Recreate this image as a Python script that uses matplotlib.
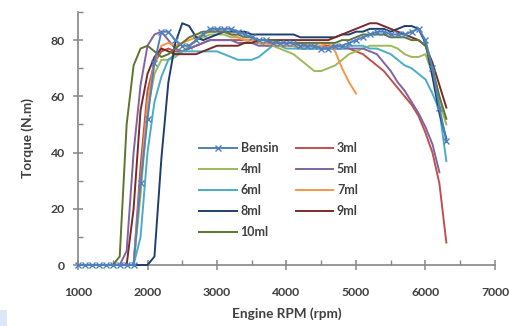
import numpy as np
import matplotlib
matplotlib.use('Agg')
import matplotlib.pyplot as plt
from matplotlib.ticker import MultipleLocator
from matplotlib.patches import Rectangle

plt.rcParams['font.family'] = ['Lato', 'DejaVu Sans']

# engine speed grid (rpm), one reading every 100 rpm
rpm = list(range(1000, 6400, 100))
nan = np.nan

bensin = [0] * 9 + [29, 52, 72, 83, 83, 80, 78, 78, 80, 82,
                    84, 84, 84, 84, 83, 82, 81, 80, 80, 79,
                    79, 79, 79, 78, 78, 78, 77, 77, 78, 78,
                    79, 80, 81, 82, 83, 83, 82, 82, 82, 83,
                    84, 80, 70, 56, 44]
ml3 = [0] * 9 + [35, 62, 72, 76, 77, 76, 76, 77, 78, 79,
                 80, 80, 80, 80, 80, 80, 80, 79, 79, 79,
                 79, 79, 79, 79, 78, 78, 78, 78, 78, 78,
                 77, 76, 75, 73, 71, 69, 66, 63, 60, 57,
                 53, 47, 40, 29, 8]
ml4 = [0] * 9 + [25, 55, 68, 73, 73, 74, 76, 78, 80, 81,
                 82, 82, 82, 81, 81, 80, 79, 79, 78, 78,
                 77, 76, 75, 73, 71, 69, 69, 70, 71, 73,
                 75, 76, 77, 78, 78, 78, 78, 77, 75, 74,
                 74, 75, 68, 58, 50]
ml5 = [0] * 7 + [5, 40, 64, 78, 82, 83, 80, 77, 76, 77,
                 78, 79, 80, 80, 80, 80, 79, 79, 79, 78,
                 78, 78, 78, 78, 78, 77, 77, 77, 77, 77,
                 77, 77, 77, 77, 77, 76, 75, 72, 69, 65,
                 62, 58, 54, 49, 43, 33, nan]
ml6 = [0] * 9 + [10, 40, 58, 67, 73, 75, 76, 76, 76, 76,
                 76, 76, 75, 74, 73, 73, 73, 74, 76, 78,
                 78, 77, 77, 77, 77, 77, 77, 77, 77, 77,
                 78, 78, 78, 77, 77, 76, 75, 73, 71, 70,
                 68, 66, 61, 55, 37]
ml7 = [0] * 9 + [30, 58, 72, 78, 79, 78, 79, 80, 81, 82,
                 83, 84, 83, 82, 81, 80, 80, 79, 79, 78,
                 78, 78, 78, 78, 78, 78, 78, 79, 76, 70,
                 65, 61] + [nan] * 13
ml8 = [0] * 11 + [3, 38, 65, 79, 86, 85, 81, 80, 81, 82,
                  83, 83, 83, 83, 82, 82, 82, 82, 82, 82,
                  82, 81, 81, 81, 81, 81, 81, 82, 82, 83,
                  83, 84, 84, 84, 83, 84, 85, 85, 84, 79,
                  67, 54, 45]
ml9 = [0] * 8 + [20, 55, 68, 74, 77, 76, 75, 75, 75, 75,
                 76, 77, 78, 78, 78, 78, 79, 79, 80, 80,
                 80, 80, 80, 80, 80, 80, 80, 80, 80, 81,
                 82, 83, 84, 85, 86, 86, 85, 84, 83, 82,
                 81, 80, 78, 72, 64, 56]
ml10 = [0] * 6 + [3, 50, 71, 77, 78, 76, 74, 75, 77, 79,
                  81, 82, 83, 83, 83, 83, 82, 82, 81, 81,
                  80, 80, 80, 79, 79, 79, 79, 79, 79, 79,
                  79, 79, 80, 80, 81, 82, 82, 82, 82, 81,
                  81, 81, 80, 80, 78, 70, 60, 52]

labels = ['Bensin', '3ml', '4ml', '5ml', '6ml', '7ml', '8ml', '9ml', '10ml']
series = [bensin, ml3, ml4, ml5, ml6, ml7, ml8, ml9, ml10]
colors = ['#4F81BD', '#C0504D', '#9BBB59', '#8064A2', '#4BACC6',
          '#F79646', '#1F3F6E', '#772C2A', '#5F7530']

fig = plt.figure(figsize=(5.1, 3.26), dpi=100)
ax = fig.add_axes([78 / 510, 61 / 326, 417 / 510, 253 / 326])

handles = {}
order_z = [1, 2, 3, 4, 5, 6, 7, 8, 0]
for i in order_z:
    kw = dict(marker='x', markersize=5, markeredgewidth=1.0) if i == 0 else {}
    ln, = ax.plot(rpm, series[i], color=colors[i], lw=1.4, clip_on=False,
                  label=labels[i], zorder=3 + (i == 0), **kw)
    handles[labels[i]] = ln

ax.set_xlim(1000, 7000)
ax.set_ylim(0, 90)
ax.xaxis.set_major_locator(MultipleLocator(1000))
ax.xaxis.set_minor_locator(MultipleLocator(500))
ax.yaxis.set_major_locator(MultipleLocator(20))
ax.yaxis.set_minor_locator(MultipleLocator(10))

for s in ['top', 'right']:
    ax.spines[s].set_visible(False)
for s in ['left', 'bottom']:
    ax.spines[s].set_color('#868686')
    ax.spines[s].set_linewidth(1.2)

ax.tick_params(which='major', direction='inout', length=7, width=1.1,
               color='#868686', labelcolor='#404040', labelsize=8.8)
ax.tick_params(which='minor', direction='in', length=3.5, width=1.0,
               color='#868686')
ax.tick_params(axis='x', which='major', pad=12)
ax.tick_params(axis='y', which='major', pad=6)
for t in ax.get_xticklabels() + ax.get_yticklabels():
    t.set_fontweight('bold')

ax.set_xlabel('Engine RPM (rpm)', fontsize=9.8, fontweight='bold',
              color='#404040', labelpad=7)
ax.set_ylabel('Torque (N.m)', fontsize=9.8, fontweight='bold',
              color='#404040', labelpad=12)

leg_order = ['Bensin', '4ml', '6ml', '8ml', '10ml', '3ml', '5ml', '7ml', '9ml']
leg = ax.legend([handles[k] for k in leg_order], leg_order, ncol=2,
                loc='upper left', bbox_to_anchor=(0.27, 0.52), frameon=False,
                fontsize=9, handlelength=3.0, handletextpad=0.3,
                columnspacing=1.4, labelspacing=0.72, borderpad=0.2)
for t in leg.get_texts():
    t.set_color('#404040')
    t.set_fontweight('bold')

fig.patches.append(Rectangle((0, 0), 7 / 510, 16 / 326, transform=fig.transFigure,
                             facecolor='#DCE7F7', edgecolor='none'))

fig.savefig('out.png', dpi=100)
